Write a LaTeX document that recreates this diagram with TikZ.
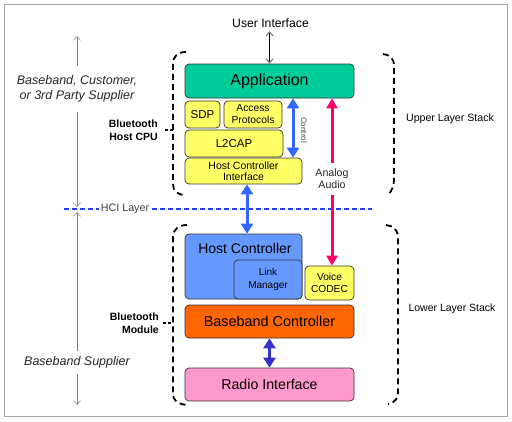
\documentclass[tikz,border=0pt]{standalone}
\usepackage{fontspec}
\setmainfont{Liberation Sans}
\usetikzlibrary{arrows.meta}
\definecolor{appgreen}{HTML}{00CC99}
\definecolor{layeryellow}{HTML}{FFFF66}
\definecolor{hcblue}{HTML}{6699FF}
\definecolor{bborange}{HTML}{FF6600}
\definecolor{radiopink}{HTML}{FF99CC}
\definecolor{audiored}{HTML}{FF0066}
\definecolor{ctlblue}{HTML}{3366FF}
\definecolor{rfblue}{HTML}{3333CC}
\definecolor{hciblue}{HTML}{1F3FFF}
\begin{document}
\begin{tikzpicture}[x=1pt, y=-1pt,
  box/.style={draw=black!80, rounded corners=4pt, line width=0.7pt, inner sep=0pt, align=center},
  bracket/.style={line width=1.8pt, dash pattern=on 6pt off 4pt},
  fat/.style={line width=3pt, {Triangle[width=12pt,length=10pt]}-{Triangle[width=12pt,length=10pt]}},
  thinarr/.style={gray, line width=0.5pt, {Straight Barb[length=4pt,width=7pt]}-{Straight Barb[length=4pt,width=7pt]}}]
\useasboundingbox (0,0) rectangle (512,421);
\draw [gray!70, line width=0.8pt] (4,4) rectangle (507,416);

% upper layer stack
\node [box, fill=appgreen, minimum width=169pt, minimum height=34pt, font=\fontsize{16}{18}\selectfont] (app) at (269.5,81) {Application};
\node [box, fill=layeryellow, minimum width=35pt, minimum height=27pt, font=\fontsize{11.5}{13}\selectfont] (sdp) at (202.5,114.5) {SDP};
\node [box, fill=layeryellow, minimum width=58pt, minimum height=27pt, font=\fontsize{10.3}{12}\selectfont] (access) at (253,114.5) {Access\\Protocols};
\node [box, fill=layeryellow, minimum width=98pt, minimum height=27pt, font=\fontsize{11.5}{13}\selectfont] (l2cap) at (234,143.5) {L2CAP};
\node [box, fill=layeryellow, minimum width=117pt, minimum height=26pt, font=\fontsize{10.5}{11.5}\selectfont] (hci) at (243.5,171) {Host Controller\\Interface};

% lower layer stack
\node [box, fill=hcblue, minimum width=117pt, minimum height=65pt] (hc) at (243.5,266.5) {};
\node [font=\fontsize{14}{16}\selectfont] (hctext) at (245,248) {Host Controller};
\node [box, fill=hcblue, minimum width=68pt, minimum height=39pt, font=\fontsize{10}{13}\selectfont] (lm) at (268,279.5) {Link\\Manager};
\node [box, fill=layeryellow, minimum width=49pt, minimum height=34pt, font=\fontsize{10.2}{12}\selectfont] (codec) at (329.5,283) {Voice\\CODEC};
\node [box, fill=bborange, minimum width=169pt, minimum height=33pt, font=\fontsize{14.4}{16}\selectfont] (bb) at (269.5,321.5) {Baseband Controller};
\node [box, fill=radiopink, minimum width=169pt, minimum height=33pt, font=\fontsize{14.2}{16}\selectfont] (radio) at (269.5,384.5) {Radio Interface};

% HCI layer line
\draw [color=hciblue, line width=1.3pt, dash pattern=on 5pt off 3pt] (64,209) -- (372,209);
\node [fill=white, inner sep=2pt, text=black!75, font=\fontsize{10.7}{12}\selectfont] (hcilayer) at (125,209) {HCI Layer};

% arrows
\node [font=\fontsize{12.2}{14}\selectfont] (ui) at (270.5,23) {User Interface};
\draw [line width=1.2pt, {Straight Barb[length=4pt,width=7pt,color=gray]}-{Straight Barb[length=4pt,width=7pt,color=gray]}] (ui.south -| app.north) -- (app.north);
\coordinate (ctlx) at (293,0);
\coordinate (audiox) at (332,0);
\coordinate (hcix) at (247,0);
\draw [fat, ctlblue] (app.south -| ctlx) -- (hci.north -| ctlx);
\node [rotate=-90, font=\fontsize{8}{9}\selectfont, text=black!75] (ctl) at (304,130) {Control};
\draw [fat, audiored, {Triangle[width=11pt,length=10pt]}-{Triangle[width=11pt,length=10pt]}] (codec.north -| audiox) -- node [pos=0.52, fill=white, align=center, inner xsep=1pt, inner ysep=6pt, text=black!85, font=\fontsize{10.6}{12}\selectfont] (audio) {Analog\\Audio} (app.south -| audiox);
\draw [fat, ctlblue] (hci.south -| hcix) -- (hc.north -| hcix);
\draw [fat, rfblue] (bb.south) -- (radio.north);

% supplier arrows
\coordinate (ltop) at (77,36);
\coordinate (lmid1) at (77,207);
\coordinate (lmid2) at (77,212);
\coordinate (lbot) at (77,405);
\draw [thinarr] (ltop) -- node [pos=0.31, fill=white, align=center, inner ysep=10pt, text=black!85, font=\fontsize{12.5}{14.5}\itshape] (cust) {Baseband, Customer,\\or 3rd Party Supplier} (lmid1);
\draw [thinarr] (lmid2) -- node [pos=0.78, fill=white, inner ysep=6pt, text=black!85, font=\fontsize{12.5}{14.5}\itshape] (bbsup) {Baseband Supplier} (lbot);

% brackets
\draw [bracket] (186,52) .. controls (178,52) and (173,56) .. (173,64) -- (173,184) .. controls (173,191) and (177,195) .. (186,195);
\draw [bracket] (187,225) .. controls (179,225) and (173,229) .. (173,237) -- (173,394) .. controls (173,400) and (177,404) .. (187,405);
\draw [bracket] (383,54) .. controls (390,55) and (394,58) .. (394,66) -- (394,178) .. controls (394,186) and (392,190) .. (389,194);
\draw [bracket] (386,225) .. controls (393,226) and (398,229) .. (398,238) -- (398,392) .. controls (398,398) and (396,402) .. (388,404);
\node [anchor=east, align=right, inner sep=0pt, font=\fontsize{10.5}{13.5}\bfseries] (cpu) at (158,130) {Bluetooth\\Host CPU};
\node [anchor=east, align=right, inner sep=0pt, font=\fontsize{10.5}{13.5}\bfseries] (module) at (159,323) {Bluetooth\\Module};
\coordinate (cpuhook) at (173,130);
\coordinate (modhook) at (173,323);
\draw [line width=1.8pt, dash pattern=on 3pt off 2pt] ([xshift=7pt]cpu.east) -- (cpuhook);
\draw [line width=1.8pt, dash pattern=on 3pt off 2pt] ([xshift=4pt]module.east) -- (modhook);
\node [font=\fontsize{10.6}{12}\selectfont] (upper) at (450,119) {Upper Layer Stack};
\node [font=\fontsize{10.5}{12}\selectfont] (lower) at (452,309) {Lower Layer Stack};
\end{tikzpicture}
\end{document}
